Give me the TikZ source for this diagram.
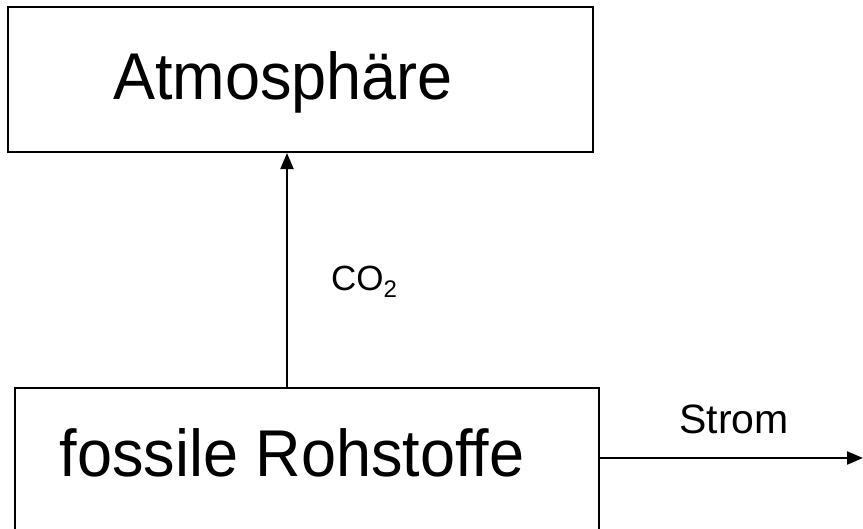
\documentclass[tikz,border=0pt]{standalone}
\usepackage{fontspec}
\setmainfont{Liberation Sans}
\usetikzlibrary{arrows.meta}
\begin{document}
\begin{tikzpicture}[x=1pt,y=-1pt,
  box/.style={draw=black,line width=2pt,rectangle,inner sep=0pt},
  bigtext/.style={inner sep=0pt,anchor=base,font=\fontsize{63}{63}\selectfont},
  flow/.style={draw=black,line width=2pt,-{Triangle[length=16pt,width=13pt]}},
  lbl/.style={inner sep=0pt,anchor=base}]
\useasboundingbox (0,0) rectangle (863,528);
\node[box,minimum width=585pt,minimum height=145pt] (atm) at (300.5,79.5) {};
\node[box,minimum width=584pt,minimum height=172pt] (fos) at (307,474) {};
\node[bigtext,yscale=1.05] (atmtext) at (283,99) {Atmosphäre};
\node[bigtext,yscale=1.05] (fostext) at (292,476) {fossile Rohstoffe};
\coordinate (end) at (863,458);
\draw[flow] (fos.north -| 287,0) -- (atm.south -| 287,0);
\draw[flow] (fos.east |- end) -- (end);
\node[lbl,font=\fontsize{35}{35}\selectfont] (co2) at (364,290) {CO\raisebox{-0.22em}{\fontsize{24}{24}\selectfont 2}};
\node[lbl,font=\fontsize{41}{41}\selectfont] (strom) at (734,433) {Strom};
\end{tikzpicture}
\end{document}
